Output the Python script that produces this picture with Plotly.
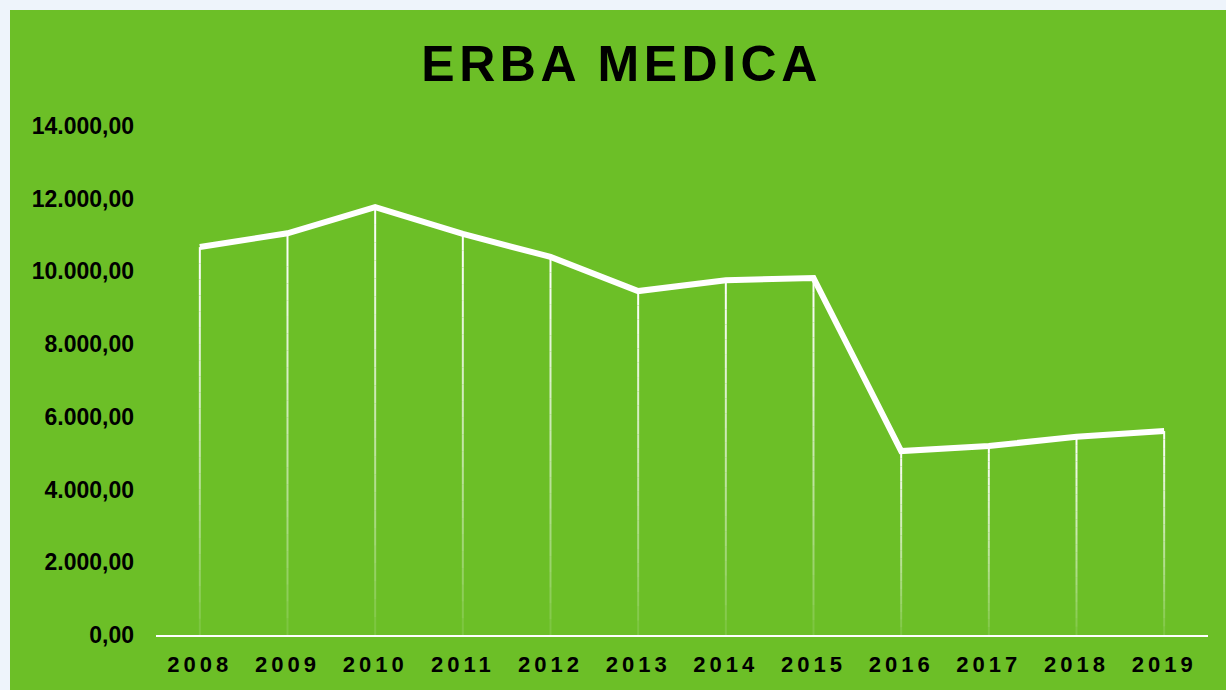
import plotly.graph_objects as go

years = ["2008", "2009", "2010", "2011", "2012", "2013",
         "2014", "2015", "2016", "2017", "2018", "2019"]
values = [10670, 11050, 11770, 11030, 10400, 9460,
          9760, 9820, 5060, 5200, 5450, 5610]
y_ticks = [0, 2000, 4000, 6000, 8000, 10000, 12000, 14000]

GREEN = "#6CBF27"
fig = go.Figure()

# drop lines with a fading gradient (top opaque -> bottom faint)
bands = 24
for b in range(bands):
    f0 = b / bands
    f1 = (b + 1) / bands
    xs, ys = [], []
    for yr, v in zip(years, values):
        xs += [yr, yr, None]
        ys += [v * f0, v * f1, None]
    op = 0.08 + 0.92 * ((b + 0.5) / bands) ** 0.8
    fig.add_trace(go.Scatter(
        x=xs, y=ys, mode="lines",
        line=dict(color=f"rgba(255,255,255,{op:.3f})", width=2),
        hoverinfo="skip", showlegend=False))

fig.add_trace(go.Scatter(
    x=years, y=values, mode="lines",
    line=dict(color="white", width=6),
    showlegend=False, name="Erba medica"))

fig.add_shape(type="rect", xref="paper", yref="paper",
              x0=(10 - 156) / 1052, x1=(1230 - 156) / 1052,
              y0=(635 - 695) / 509, y1=(635 - 10) / 509,
              fillcolor=GREEN, line=dict(width=0), layer="below")

fig.update_layout(
    width=1226, height=690,
    margin=dict(l=156, r=18, t=126, b=55),
    paper_bgcolor="#EEF4FB",
    plot_bgcolor=GREEN,
    separators=",.",
    title=dict(text="<b>ERBA MEDICA</b>", x=0.507, xanchor="center",
               y=1 - 63 / 690, yanchor="middle", yref="container",
               font=dict(family="Liberation Sans, Arial", size=50, color="black")),
    xaxis=dict(type="category", range=[-0.5, 11.5], showgrid=False,
               showline=True, linecolor="white", linewidth=2,
               ticks="", zeroline=False, ticklabelstandoff=9,
               tickfont=dict(family="Liberation Sans, Arial", size=22, color="black", weight="bold")),
    yaxis=dict(range=[0, 14000], tickvals=y_ticks, tickformat=",.2f",
               showgrid=False, zeroline=False, showline=False, ticks="",
               ticklabelstandoff=21,
               tickfont=dict(family="Liberation Sans, Arial", size=23, color="black", weight="bold")),
)

post = """
document.body.style.margin='0';
var gd = document.getElementById('{plot_id}');
gd.querySelectorAll('.xtick text').forEach(function(t){ t.style.letterSpacing='4px'; });
gd.querySelectorAll('.gtitle').forEach(function(t){ t.style.letterSpacing='4.5px'; });
"""
fig.write_html("out.html", post_script=post, config={"displayModeBar": False})
